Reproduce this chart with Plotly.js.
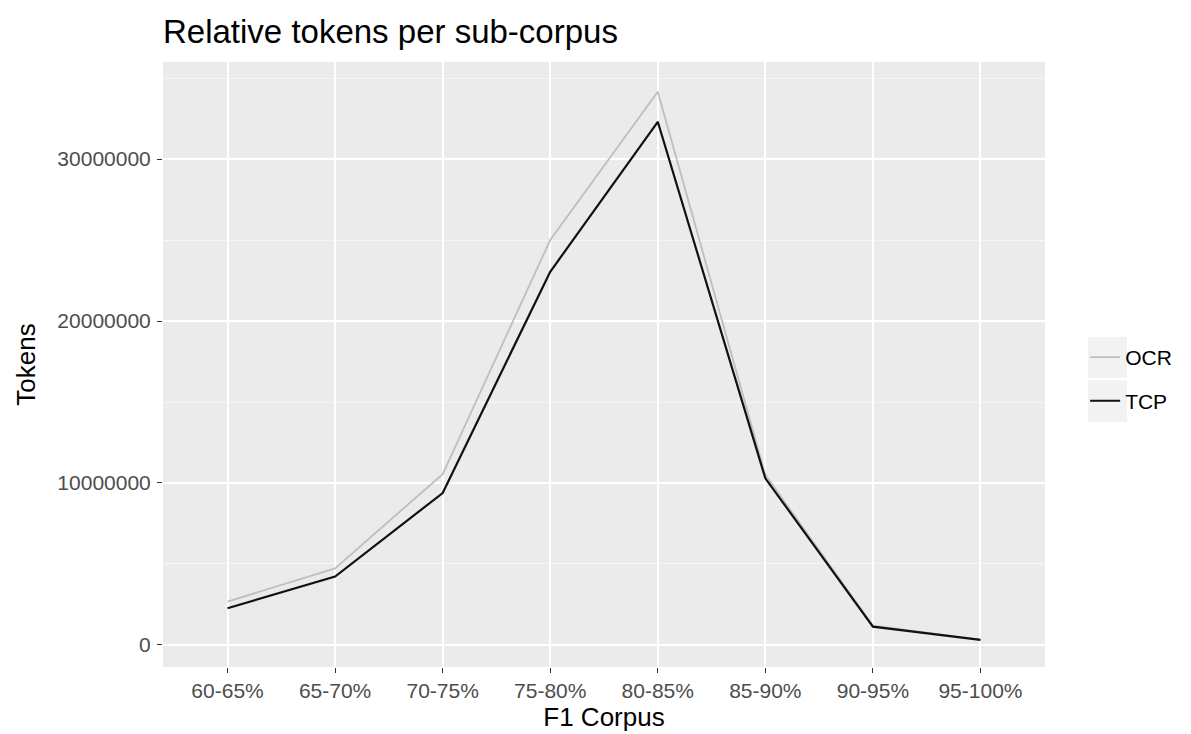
<!DOCTYPE html>
<html>
<head>
<meta charset="utf-8">
<script src="https://cdn.plot.ly/plotly-3.0.1.min.js"></script>
<style>html,body{margin:0;padding:0;background:#fff;}#chart{width:1191px;height:734px;}</style>
</head>
<body>
<div id="chart"></div>
<script>
const categories = ["60-65%","65-70%","70-75%","75-80%","80-85%","85-90%","90-95%","95-100%"];
const ocrTokens = [2680000, 4730000, 10550000, 25000000, 34150000, 10500000, 1200000, 330000];
const tcpTokens = [2270000, 4220000, 9380000, 23040000, 32300000, 10290000, 1130000, 310000];
const yTickVals = [0, 10000000, 20000000, 30000000];
const yTickText = ["0", "10000000", "20000000", "30000000"];

const traces = [
  {x: categories, y: ocrTokens, name: "OCR", type: "scatter", mode: "lines",
   line: {color: "#BEBEBE", width: 1.8}, legend: "legend"},
  {x: categories, y: tcpTokens, name: "TCP", type: "scatter", mode: "lines",
   line: {color: "#111111", width: 2.2}, legend: "legend2"}
];

const legendBase = {xanchor: "left", yanchor: "middle", bgcolor: "rgba(0,0,0,0)",
  font: {size: 21, color: "#000", family: "Liberation Sans, Arial, sans-serif"}, itemwidth: 30};

const layout = {
  width: 1191, height: 734,
  margin: {l: 163, r: 146, t: 62, b: 67},
  paper_bgcolor: "#FFFFFF",
  plot_bgcolor: "#EBEBEB",
  font: {family: "Liberation Sans, Arial, sans-serif", color: "#000"},
  title: {text: "Relative tokens per sub-corpus", x: 163/1191, xanchor: "left",
          yref: "container", y: 1 - 31/734, yanchor: "middle",
          font: {size: 33, color: "#000"}},
  xaxis: {
    type: "category", range: [-0.6, 7.6],
    showgrid: true, gridcolor: "#FFFFFF", gridwidth: 2.2,
    zeroline: false, showline: false,
    ticks: "outside", ticklen: 5, tickcolor: "#333333", tickwidth: 1.2,
    tickfont: {size: 21, color: "#4D4D4D"},
    title: {text: "F1 Corpus", font: {size: 26, color: "#000"}, standoff: 6}
  },
  yaxis: {
    range: [-1360000, 35990000],
    tickvals: yTickVals, ticktext: yTickText,
    showgrid: true, gridcolor: "#FFFFFF", gridwidth: 2,
    minor: {dtick: 5000000, tick0: 5000000, showgrid: true, gridcolor: "#F6F6F6", gridwidth: 1, ticks: ""},
    zeroline: false, showline: false,
    ticks: "outside", ticklen: 5, tickcolor: "#333333", tickwidth: 1.2,
    tickfont: {size: 21, color: "#4D4D4D"},
    ticklabelstandoff: 2,
    title: {text: "Tokens", font: {size: 26, color: "#000"}, standoff: 14}
  },
  showlegend: true,
  legend: Object.assign({}, legendBase, {x: 1.0455, y: 0.5115}),
  legend2: Object.assign({}, legendBase, {x: 1.0455, y: 0.4395}),
  shapes: [
    {type: "rect", xref: "paper", yref: "paper", x0: 1.0488, x1: 1.093, y0: 0.4775, y1: 0.5455,
     fillcolor: "#F2F2F2", line: {width: 0}, layer: "below"},
    {type: "rect", xref: "paper", yref: "paper", x0: 1.0488, x1: 1.093, y0: 0.405, y1: 0.4735,
     fillcolor: "#F2F2F2", line: {width: 0}, layer: "below"}
  ]
};

Plotly.newPlot("chart", traces, layout, {displayModeBar: false, responsive: false});
</script>
</body>
</html>
